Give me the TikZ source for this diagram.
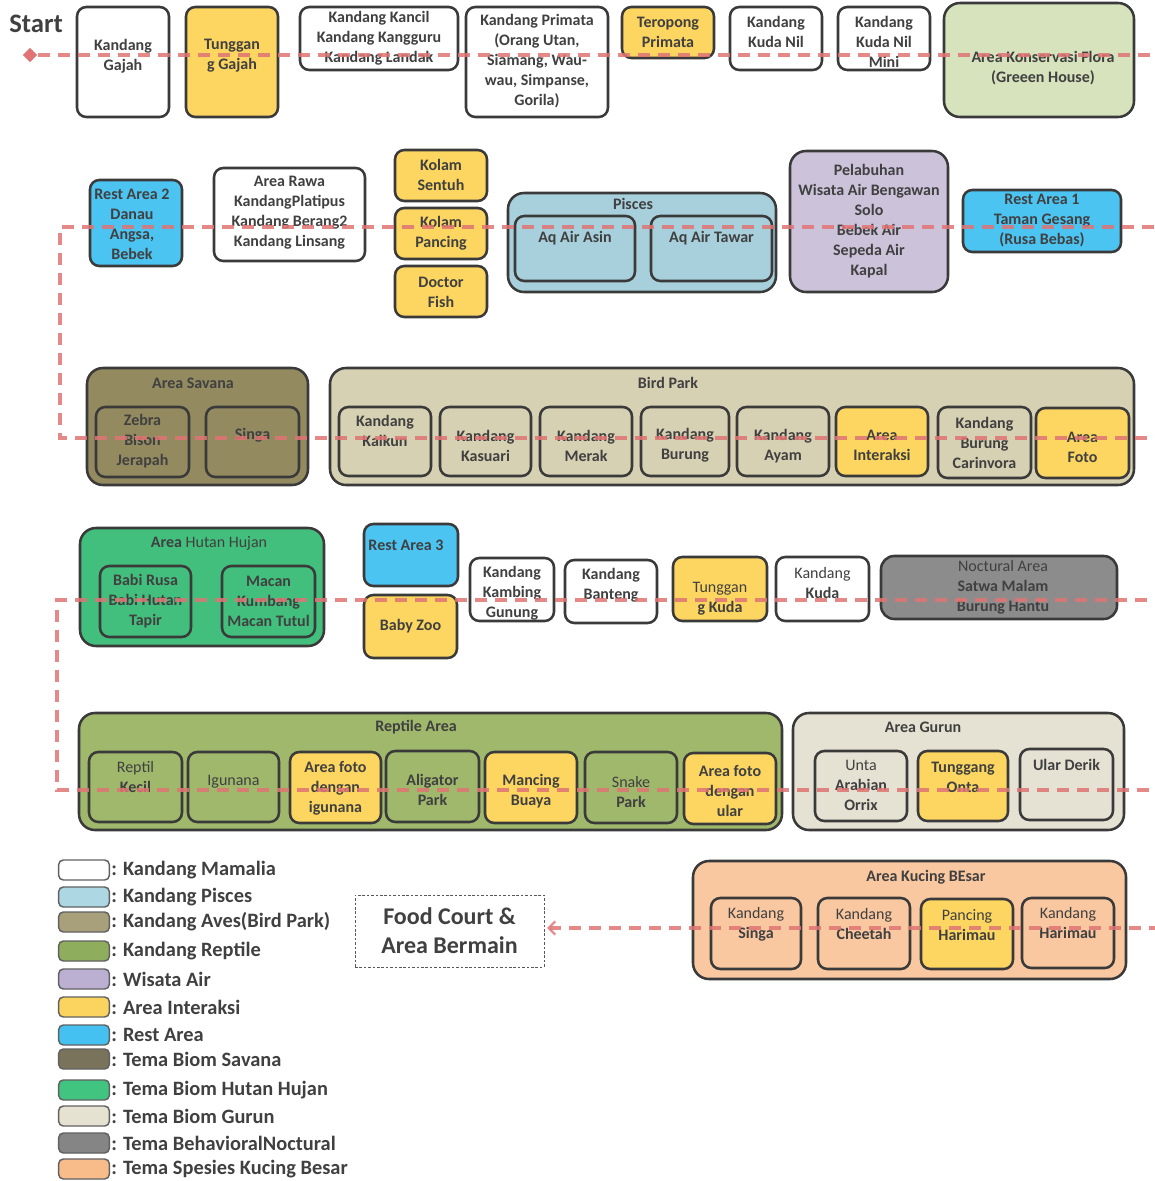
\documentclass[tikz,border=0pt]{standalone}
\usepackage{fontspec}
\setmainfont{Carlito}
\usetikzlibrary{shapes.geometric,arrows.meta}

\definecolor{txt}{HTML}{404040}
\definecolor{edge}{HTML}{3A3A3A}
\definecolor{route}{HTML}{E07474}
\definecolor{cGold}{HTML}{FCD660}
\definecolor{cRest}{HTML}{4CC4F2}
\definecolor{cPisces}{HTML}{A7D0DC}
\definecolor{cWater}{HTML}{CCC2DA}
\definecolor{cFlora}{HTML}{D6E3BC}
\definecolor{cSavana}{HTML}{938A60}
\definecolor{cBird}{HTML}{D7D1B3}
\definecolor{cRain}{HTML}{42BF7C}
\definecolor{cReptile}{HTML}{A0B86C}
\definecolor{cDesert}{HTML}{E6E2D3}
\definecolor{cNight}{HTML}{8C8C8C}
\definecolor{cCat}{HTML}{F9C7A0}
% legend swatch tones
\definecolor{lPisces}{HTML}{ADD7E3}
\definecolor{lAves}{HTML}{A8A07A}
\definecolor{lReptile}{HTML}{8FAE5D}
\definecolor{lWater}{HTML}{BBB0D1}
\definecolor{lGold}{HTML}{FAD45E}
\definecolor{lRest}{HTML}{44C1F0}
\definecolor{lSavana}{HTML}{7A735B}
\definecolor{lRain}{HTML}{40C480}
\definecolor{lDesert}{HTML}{E6E2D2}
\definecolor{lNight}{HTML}{858585}
\definecolor{lCat}{HTML}{F8BC8B}

\tikzset{
  box/.style={draw=edge, line width=1.9pt, rounded corners=7pt, inner sep=0pt, outer sep=0pt},
  lbl/.style={text=txt, align=center, inner sep=0pt, font=\bfseries\fontsize{12}{15}\selectfont},
  routeline/.style={draw=route, line width=2.6pt, dash pattern=on 9pt off 6pt, draw opacity=0.85},
  swatch/.style={draw=edge!80, line width=1.1pt, rounded corners=3.5pt, minimum width=38pt, minimum height=15pt, inner sep=0pt},
  legtext/.style={text=txt, anchor=west, inner sep=0pt, font=\bfseries\fontsize{15.3}{18}\selectfont},
}

% box drawn from its pixel edges (left, top, right, bottom), text centred at height #7
\newcommand\zbox[8]{%
  \node[box,#2,minimum width={(#5-#3)*0.75pt},minimum height={(#6-#4)*0.75pt}] (#1) at ({(#3+#5)/2},{(#4+#6)/2}) {};
  \node[lbl] (#1-t) at ({(#3+#5)/2},#7) {#8};}
% group box whose title sits at (#7,#8)
\newcommand\cbox[9]{%
  \node[box,rounded corners=12pt,#2,minimum width={(#5-#3)*0.75pt},minimum height={(#6-#4)*0.75pt}] (#1) at ({(#3+#5)/2},{(#4+#6)/2}) {};
  \node[lbl] (#1-t) at (#7,#8) {#9};}

\begin{document}
\begin{tikzpicture}[x=0.75pt,y=-0.75pt]
\fill[white] (0,0) rectangle (1154,1181);
\useasboundingbox (0,0) rectangle (1154,1181);

\node[text=txt, anchor=west, inner sep=0pt, font=\bfseries\fontsize{20}{24}\selectfont] (starttxt) at (9,24) {Start};

% ---- row 1
\zbox{gajah}{fill=white}{77}{7}{169}{117}{56}{Kandang\\Gajah}
\zbox{tgajah}{fill=cGold}{186}{7}{278}{117}{56}{Tunggan\\g Gajah}
\zbox{kancil}{fill=white}{300}{7}{458}{70}{38}{Kandang Kancil\\Kandang Kangguru\\Kandang Landak}
\zbox{primata}{fill=white}{466}{7}{608}{117}{61}{Kandang Primata\\(Orang Utan,\\Siamang, Wau-\\wau, Simpanse,\\Gorila)}
\zbox{teropong}{fill=cGold}{622}{7}{714}{58}{32}{Teropong\\Primata}
\zbox{kudanil}{fill=white}{730}{7}{822}{70}{32}{Kandang\\Kuda Nil}
\zbox{kudamini}{fill=white}{838}{7}{930}{70}{42}{Kandang\\Kuda Nil\\Mini}
\cbox{flora}{fill=cFlora}{944}{3}{1134}{117}{1043}{68}{Area Konservasi Flora\\(Greeen House)}

% ---- row 2
\cbox{rest2}{fill=cRest,rounded corners=7pt}{90}{180}{182}{266}{132}{224}{Rest Area 2\\Danau\\Angsa,\\Bebek}
\zbox{rawa}{fill=white}{214}{168}{365}{261}{213}{Area Rawa\\KandangPlatipus\\Kandang Berang2\\Kandang Linsang}
\zbox{sentuh}{fill=cGold}{395}{150}{487}{201}{175}{Kolam\\Sentuh}
\zbox{pancing}{fill=cGold}{395}{208}{487}{259}{233}{Kolam\\Pancing}
\zbox{doctor}{fill=cGold}{395}{266}{487}{317}{292}{Doctor\\Fish}
\cbox{pisces}{fill=cPisces}{508}{193}{776}{292}{633}{204}{Pisces}
\zbox{asin}{fill=cPisces}{515}{216}{635}{281}{238}{Aq Air Asin}
\zbox{tawar}{fill=cPisces}{651}{216}{772}{281}{238}{Aq Air Tawar}
\cbox{pelabuhan}{fill=cWater}{790}{151}{948}{292}{869}{221}{Pelabuhan\\Wisata Air Bengawan\\Solo\\Bebek Air\\Sepeda Air\\Kapal}
\zbox{rest1}{fill=cRest}{963}{190}{1121}{252}{221}{Rest Area 1\\Taman Gesang\\(Rusa Bebas)}

% ---- row 3
\cbox{savana}{fill=cSavana}{87}{368}{308}{485}{193}{383}{Area Savana}
\zbox{zebra}{fill=cSavana}{96}{407}{189}{477}{441}{Zebra\\Bison\\Jerapah}
\zbox{singa}{fill=cSavana}{206}{407}{299}{477}{435}{Singa}
\cbox{bird}{fill=cBird}{330}{368}{1134}{485}{668}{383}{Bird Park}
\zbox{kalkun}{fill=cBird}{339}{407}{431}{476}{431}{Kandang\\Kalkun}
\zbox{kasuari}{fill=cBird}{440}{407}{531}{476}{446}{Kandang\\Kasuari}
\zbox{merak}{fill=cBird}{540}{407}{632}{476}{446}{Kandang\\Merak}
\zbox{burung}{fill=cBird}{641}{407}{729}{476}{445}{Kandang\\Burung}
\zbox{ayam}{fill=cBird}{737}{407}{829}{476}{446}{Kandang\\Ayam}
\zbox{interaksi}{fill=cGold}{836}{407}{928}{476}{445}{Area\\Interaksi}
\zbox{carnivora}{fill=cBird}{938}{407}{1031}{478}{443}{Kandang\\Burung\\Carinvora}
\zbox{foto}{fill=cGold}{1036}{408}{1129}{478}{447}{Area\\Foto}

% ---- row 4
\cbox{hutan}{fill=cRain}{80}{528}{324}{646}{209}{543}{Area \mdseries Hutan Hujan}
\zbox{babi}{fill=cRain}{100}{566}{191}{637}{601}{Babi Rusa\\Babi Hutan\\Tapir}
\zbox{macan}{fill=cRain}{222}{566}{315}{637}{601}{Macan\\Kumbang\\Macan Tutul}
\cbox{rest3}{fill=cRest,rounded corners=7pt}{364}{524}{458}{586}{406}{545}{Rest Area 3}
\zbox{babyzoo}{fill=cGold}{364}{595}{457}{658}{626}{Baby Zoo}
\zbox{kambing}{fill=white}{470}{558}{554}{621}{593}{Kandang\\Kambing\\Gunung}
\zbox{banteng}{fill=white}{565}{560}{657}{623}{585}{Kandang\\Banteng}
\zbox{tkuda}{fill=cGold}{673}{557}{767}{621}{599}{\mdseries Tunggan\\g Kuda}
\zbox{kuda}{fill=white}{776}{557}{869}{621}{583}{\mdseries Kandang\\Kuda}
\cbox{noctural}{fill=cNight,rounded corners=10pt}{881}{556}{1117}{619}{1003}{587}{\mdseries Noctural Area\\Satwa Malam\\Burung Hantu}

% ---- row 5
\cbox{reptile}{fill=cReptile}{79}{713}{782}{830}{416}{727}{Reptile Area}
\zbox{kecil}{fill=cReptile}{89}{752}{182}{822}{777}{\mdseries Reptil\\Kecil}
\zbox{igunana}{fill=cReptile}{188}{752}{279}{822}{782}{\mdseries Igunana}
\zbox{fotoig}{fill=cGold}{290}{752}{381}{823}{788}{Area foto\\dengan\\igunana}
\zbox{aligator}{fill=cReptile}{386}{751}{479}{822}{790}{Aligator\\Park}
\zbox{buaya}{fill=cGold}{485}{752}{577}{823}{791}{Mancing\\Buaya}
\zbox{snake}{fill=cReptile}{585}{752}{677}{823}{792}{\mdseries Snake\\Park}
\zbox{fotoular}{fill=cGold}{684}{753}{776}{824}{791}{Area foto\\dengan\\ular}
\cbox{gurun}{fill=cDesert}{793}{713}{1124}{830}{923}{727}{Area Gurun}
\zbox{unta}{fill=cDesert}{815}{751}{907}{821}{785}{\mdseries Unta\\Arabian\\Orrix}
\zbox{onta}{fill=cGold}{918}{751}{1008}{821}{777}{Tunggang\\Onta}
\zbox{derik}{fill=cDesert}{1020}{749}{1113}{820}{765}{Ular Derik}

% ---- row 6
\cbox{kucing}{fill=cCat}{693}{861}{1126}{979}{926}{877}{Area Kucing BEsar}
\zbox{ksinga}{fill=cCat}{711}{898}{801}{969}{924}{\mdseries Kandang\\Singa}
\zbox{cheetah}{fill=cCat}{818}{898}{910}{969}{924}{\mdseries Kandang\\Cheetah}
\zbox{pharimau}{fill=cGold}{921}{899}{1013}{969}{925}{\mdseries Pancing\\Harimau}
\zbox{kharimau}{fill=cCat}{1022}{898}{1114}{968}{923}{\mdseries Kandang\\Harimau}

% ---- food court
\node[draw=edge!85, line width=0.7pt, dash pattern=on 2pt off 1.3pt, inner sep=0pt,
      minimum width={(544-355)*0.75pt}, minimum height={(967-895)*0.75pt}] (food) at (449.5,931) {};
\node[text=txt, align=center, inner sep=0pt, font=\bfseries\fontsize{18}{21.75}\selectfont] (food-t) at (449.5,931) {Food Court \&\\Area Bermain};

% ---- visitor route
\node[diamond, fill=route, inner sep=0pt, minimum width=11pt, minimum height=11pt] (start) at (30,55) {};
\coordinate (e1) at (1170,55);
\coordinate (e2) at (1170,227);
\coordinate (w2) at (60,227);
\coordinate (w3) at (60,438);
\coordinate (e3) at (1170,438);
\coordinate (e4) at (1170,600);
\coordinate (w4) at (57,600);
\coordinate (w5) at (57,790);
\coordinate (e5) at (1170,790);
\coordinate (e6) at (1170,928);
\draw[routeline, -{Straight Barb[length=5pt,width=10pt,line width=1.6pt]}, shorten >=2pt]
  (start) -- (e1) -- (e2) -- (w2) -- (w3) -- (e3) -- (e4) -- (w4) -- (w5) -- (e5) -- (e6) -- (food.east |- e6);

% ---- legend
\foreach \y/\c/\t [count=\i] in {
  870/white/{Kandang Mamalia},
  897/lPisces/{Kandang Pisces},
  922/lAves/{Kandang Aves(Bird Park)},
  951/lReptile/{Kandang Reptile},
  979/lWater/{Wisata Air},
  1007/lGold/{Area Interaksi},
  1035/lRest/{Rest Area},
  1059/lSavana/{Tema Biom Savana},
  1090/lRain/{Tema Biom Hutan Hujan},
  1116/lDesert/{Tema Biom Gurun},
  1143/lNight/{Tema BehavioralNoctural},
  1169/lCat/{Tema Spesies Kucing Besar}} {
  \node[swatch, fill=\c] (sw\i) at (84,\y) {};
  \node[legtext] (lg\i) at (111,\y) {: \t};
}
\end{tikzpicture}
\end{document}
